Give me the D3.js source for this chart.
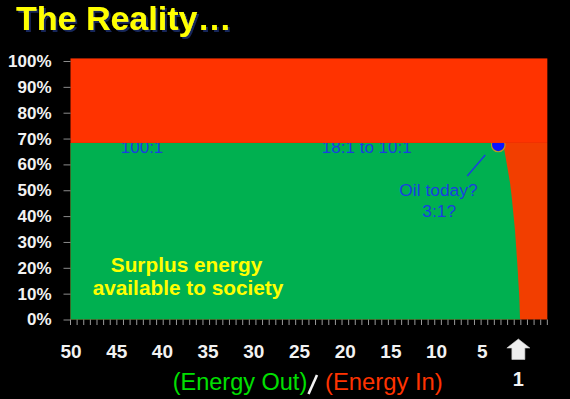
<!DOCTYPE html>
<html>
<head>
<meta charset="utf-8">
<script src="https://cdn.jsdelivr.net/npm/d3@7"></script>
<style>
  html, body { margin: 0; padding: 0; background: #000; }
  svg { display: block; font-family: "Liberation Sans", Arial, sans-serif; }
</style>
</head>
<body>
<div id="chart"></div>
<script>
// EROI (energy out / energy in) along the x axis, surplus share in %
const eroi       = [50, 3.2, 2.65, 2.28, 1.91, 1.73, 1.37, 1.12, 0.9, 0.82];
const surplusPct = [68.3, 68.3, 67.9, 60.4, 52.8, 47.5, 34.6, 21.9, 8.8, 0];
const plateauPct = 68.3;   // top of the green block
const ceilingPct = 101;    // red fills up to here
const xDomainEnd = -2.17;  // right edge of the plot

const xTicks = [50, 45, 40, 35, 30, 25, 20, 15, 10, 5];
const yTicks = [0, 10, 20, 30, 40, 50, 60, 70, 80, 90, 100];
const minorTickCount = 72;

const oilToday = { eroi: 3.2, pct: 68.3 };
const ratioLabels = [
  { text: "100:1", eroi: 44.5 },
  { text: "18:1 to 10:1", eroi: 22.5 }
];

const W = 570, H = 399;
const svg = d3.select('#chart').append('svg')
  .attr('width', W)
  .attr('height', H);

const defs = svg.append('defs');
defs.append('filter')
  .attr('id', 'titleShadow')
  .attr('x', '-5%').attr('y', '-20%')
  .attr('width', '120%').attr('height', '150%')
  .append('feDropShadow')
  .attr('dx', 2).attr('dy', 2)
  .attr('stdDeviation', 0.6)
  .attr('flood-color', '#13285a')
  .attr('flood-opacity', 1);

const x = d3.scaleLinear().domain([50, 0]).range([70.5, 527.5]);
const y = d3.scaleLinear().domain([0, 100]).range([319.5, 61]);

const font = '"Liberation Sans", Arial, sans-serif';

// lower band: energy in (right of the cliff)
svg.append('rect')
  .attr('x', x(50))
  .attr('y', y(plateauPct))
  .attr('width', x(xDomainEnd) - x(50))
  .attr('height', y(0) - y(plateauPct))
  .attr('fill', '#f23e00');

// green surplus area
const pts = eroi.map((e, i) => ({ e: e, p: surplusPct[i] }));
const area = d3.area()
  .x(d => x(d.e))
  .y0(y(0))
  .y1(d => y(d.p))
  .curve(d3.curveLinear);
svg.append('path')
  .datum(pts)
  .attr('d', area)
  .attr('fill', '#00b050');

// ratio labels (partly hidden by the red band drawn later)
svg.selectAll('.ratio')
  .data(ratioLabels)
  .enter().append('text')
  .attr('class', 'ratio')
  .attr('x', d => x(d.eroi))
  .attr('y', 152.5)
  .attr('font-size', 17)
  .attr('fill', '#1a3ee0')
  .text(d => d.text);

// oil today marker
svg.append('line')
  .attr('x1', x(oilToday.eroi) - 13).attr('y1', 155)
  .attr('x2', x(oilToday.eroi) - 31).attr('y2', 176)
  .attr('stroke', '#1a3ee0')
  .attr('stroke-width', 1.5);

svg.append('circle')
  .attr('cx', x(oilToday.eroi))
  .attr('cy', y(oilToday.pct) + 2)
  .attr('r', 6.8)
  .attr('fill', '#0a14ff')
  .attr('stroke', '#b89a20')
  .attr('stroke-width', 1.2);

svg.append('text')
  .attr('x', 438.5).attr('y', 195.7)
  .attr('text-anchor', 'middle')
  .attr('font-size', 17.4)
  .attr('fill', '#1a3ee0')
  .text('Oil today?');
svg.append('text')
  .attr('x', 439.3).attr('y', 216.7)
  .attr('text-anchor', 'middle')
  .attr('font-size', 17.4)
  .attr('fill', '#1a3ee0')
  .text('3:1?');

// top red band
svg.append('rect')
  .attr('x', x(50))
  .attr('y', y(ceilingPct))
  .attr('width', x(xDomainEnd) - x(50))
  .attr('height', y(plateauPct) - y(ceilingPct))
  .attr('fill', '#ff3300');

// surplus caption
svg.append('text')
  .attr('x', 186.5).attr('y', 271.7)
  .attr('text-anchor', 'middle')
  .attr('font-size', 20.8)
  .attr('font-weight', 'bold')
  .attr('fill', '#ffff00')
  .text('Surplus energy');
svg.append('text')
  .attr('x', 188).attr('y', 295)
  .attr('text-anchor', 'middle')
  .attr('font-size', 20.8)
  .attr('font-weight', 'bold')
  .attr('fill', '#ffff00')
  .text('available to society');

// y axis
const yAxis = svg.append('g')
  .attr('transform', 'translate(' + x(50) + ',0)')
  .call(d3.axisLeft(y).tickValues(yTicks).tickFormat(d => d + '%').tickSize(7).tickPadding(12));
yAxis.select('.domain').remove();
yAxis.selectAll('line').attr('stroke', '#8c8c8c');
yAxis.selectAll('text')
  .attr('fill', '#f2f2f2')
  .attr('font-size', 17)
  .attr('font-weight', 'bold')
  .attr('font-family', font);

// minor ticks along the bottom
const minor = d3.scaleLinear().domain([0, minorTickCount]).range([x(50), x(xDomainEnd)]);
svg.append('g')
  .selectAll('line')
  .data(d3.range(minorTickCount + 1))
  .enter().append('line')
  .attr('x1', d => minor(d)).attr('x2', d => minor(d))
  .attr('y1', y(0)).attr('y2', y(0) + 5.5)
  .attr('stroke', '#9a9a9a')
  .attr('stroke-width', 1);

// x labels
const xAxis = svg.append('g')
  .attr('transform', 'translate(0,' + y(0) + ')')
  .call(d3.axisBottom(x).tickValues(xTicks).tickSize(0).tickPadding(25));
xAxis.select('.domain').remove();
xAxis.selectAll('text')
  .attr('fill', '#f2f2f2')
  .attr('font-size', 19)
  .attr('font-weight', 'bold')
  .attr('font-family', font);

// arrow pointing at 1:1
const ax = x(1);
svg.append('path')
  .attr('d', 'M' + ax + ',339 L' + (ax + 11.5) + ',348 L' + (ax + 6.5) + ',348 L' + (ax + 6.5) + ',359.5 ' +
             'L' + (ax - 6.5) + ',359.5 L' + (ax - 6.5) + ',348 L' + (ax - 11.5) + ',348 Z')
  .attr('fill', '#eeeeee')
  .attr('stroke', '#cfcfcf')
  .attr('stroke-width', 0.6);
svg.append('text')
  .attr('x', ax).attr('y', 385.5)
  .attr('text-anchor', 'middle')
  .attr('font-size', 20)
  .attr('font-weight', 'bold')
  .attr('fill', '#f2f2f2')
  .text('1');

// axis title
svg.append('text')
  .attr('x', 172.7).attr('y', 390)
  .attr('font-size', 23.5)
  .attr('fill', '#00e000')
  .text('(Energy Out)');
svg.append('line')
  .attr('x1', 308.5).attr('y1', 394)
  .attr('x2', 317).attr('y2', 375)
  .attr('stroke', '#f2f2f2')
  .attr('stroke-width', 2.6);
svg.append('text')
  .attr('x', 325).attr('y', 390)
  .attr('font-size', 23.8)
  .attr('fill', '#ff3300')
  .text('(Energy In)');

// title with dark shadow
svg.append('text')
  .attr('x', 16).attr('y', 30)
  .attr('font-size', 34)
  .attr('font-weight', 'bold')
  .attr('fill', '#ffff00')
  .attr('filter', 'url(#titleShadow)')
  .text('The Reality…');
</script>
</body>
</html>
